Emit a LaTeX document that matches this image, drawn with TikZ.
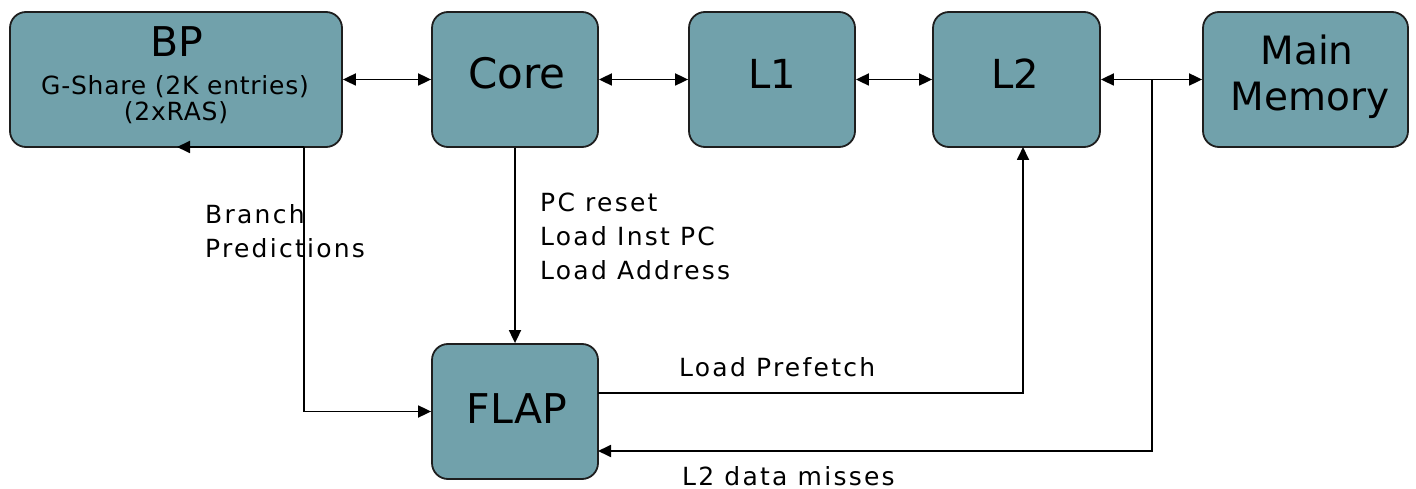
\documentclass[tikz,border=0pt]{standalone}
\usepackage{fontspec}
\setmainfont{DejaVu Sans}
\newfontfamily\tagfont[LetterSpace=9]{DejaVu Sans}
\newfontfamily\subfont[LetterSpace=3]{DejaVu Sans}
\usetikzlibrary{arrows.meta}
\definecolor{blockfill}{RGB}{113,161,171}
\definecolor{edge}{RGB}{30,30,30}
\tikzset{
  block/.style={draw=edge, line width=1.8pt, fill=blockfill, rounded corners=16pt,
    inner sep=0pt, minimum height=135pt},
  bigtxt/.style={anchor=base, inner sep=0pt, font=\fontsize{40}{46}\selectfont},
  tagtxt/.style={anchor=base west, inner sep=0pt, align=left,
    font=\tagfont\fontsize{25}{34}\selectfont},
  link/.style={draw=black, line width=1.8pt},
  tip/.style={-{Triangle[length=13pt,width=12pt]}},
  tips/.style={{Triangle[length=13pt,width=12pt]}-{Triangle[length=13pt,width=12pt]}}
}
\begin{document}
\begin{tikzpicture}[x=1pt,y=-1pt]
\useasboundingbox (0,0) rectangle (1416,489);

% blocks
\node[block, minimum width=332pt] (bp)   at (176,79.5)    {};
\node[block, minimum width=166pt] (core) at (515,79.5)    {};
\node[block, minimum width=166pt] (l1)   at (772,79.5)    {};
\node[block, minimum width=167pt] (l2)   at (1016.5,79.5) {};
\node[block, minimum width=205pt] (mem)  at (1305.5,79.5) {};
\node[block, minimum width=166pt] (flap) at (515,411.5)   {};

% block captions
\node[bigtxt, font=\fontsize{41}{46}\selectfont] (bpT) at (177,57) {BP};
\node[anchor=base, inner sep=0pt, font=\subfont\fontsize{25}{26}\selectfont] (bpS1) at (175,95) {G-Share (2K entries)};
\node[anchor=base, inner sep=0pt, font=\subfont\fontsize{25}{26}\selectfont] (bpS2) at (176,121) {(2xRAS)};
\node[bigtxt, font=\fontsize{42}{46}\selectfont] (coreT) at (517,89) {Core};
\node[bigtxt] (l1T) at (772,89) {L1};
\node[bigtxt] (l2T) at (1015.5,89) {L2};
\node[bigtxt, font=\fontsize{39}{46}\selectfont] (memT1) at (1307,65) {Main};
\node[bigtxt, font=\fontsize{39}{46}\selectfont] (memT2) at (1310,111) {Memory};
\node[bigtxt, font=\fontsize{41}{46}\selectfont] (flapT) at (517,423) {FLAP};

% routing points
\coordinate (bpOut)  at (304,147);
\coordinate (bpTip)  at (177,147);
\coordinate (join)   at (1152,79.5);
\coordinate (missIn) at (598,451);
\coordinate (pfOut)  at (598,393);
\coordinate (l2In)   at (1023,147);

% bidirectional links along the top row
\draw[link, tips] (bp.east) -- (core.west);
\draw[link, tips] (core.east) -- (l1.west);
\draw[link, tips] (l1.east) -- (l2.west);
\draw[link, tips] (l2.east) -- (mem.west);

% core to FLAP
\draw[link, tip] (core.south) -- (flap.north);
% branch predictions
\draw[link, tip] (bpOut) |- (flap.west);
\draw[link, tip] (bpOut) -- (bpTip);
% prefetch into L2
\draw[link, tip] (pfOut) -| (l2In);
% L2 misses back to FLAP
\draw[link, tip] (join) |- (missIn);

% link labels (multi-line nodes sit on their last baseline)
\node[tagtxt] (brLbl) at (205,257) {Branch\\Predictions};
\node[tagtxt] (pcLbl) at (540,279) {PC reset\\Load Inst PC\\Load Address};
\node[tagtxt] (pfLbl) at (679,376) {Load Prefetch};
\node[tagtxt] (msLbl) at (682,485) {L2 data misses};
\end{tikzpicture}
\end{document}
